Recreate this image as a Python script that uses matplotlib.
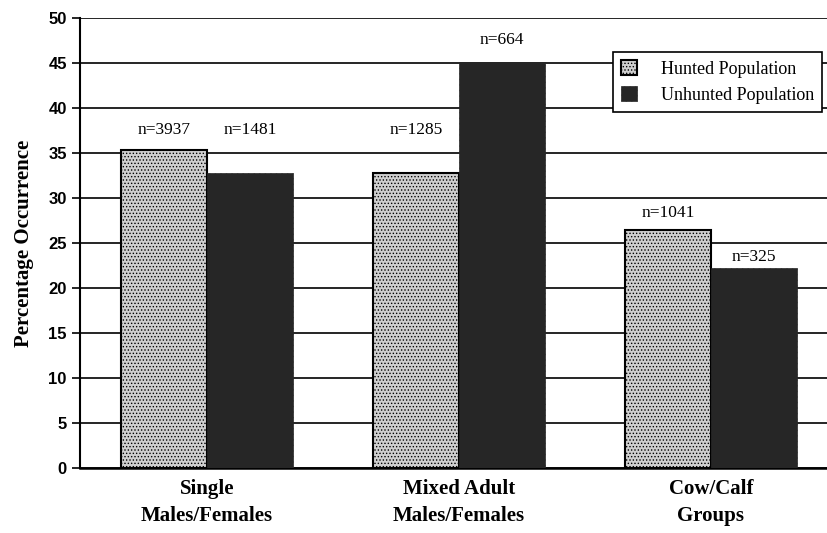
import numpy as np
import matplotlib.pyplot as plt

groups = ['Single\nMales/Females', 'Mixed Adult\nMales/Females', 'Cow/Calf\nGroups']
hunted = [35.3, 32.8, 26.4]
unhunted = [32.8, 45.1, 22.2]
n_hunted = ['n=3937', 'n=1285', 'n=1041']
n_unhunted = ['n=1481', 'n=664', 'n=325']
n_hunted_y = [37.6, 37.6, 28.3]
n_unhunted_y = [37.6, 47.6, 23.4]

serif = 'Liberation Serif'
plt.rcParams['hatch.linewidth'] = 0.6

fig = plt.figure(figsize=(8.27, 5.33), dpi=100)
ax = fig.add_axes([0.0967, 0.122, 0.903, 0.844])

x = np.arange(len(groups))
w = 0.34

plt.rcParams['hatch.color'] = '#9a9a9a'
b1 = ax.bar(x - w/2, hunted, w, color='#cfcfcf', edgecolor='black', linewidth=1.5,
            hatch='.....', zorder=3, label='Hunted Population')
b2 = ax.bar(x + w/2, unhunted, w, color='#262626', edgecolor='#262626', linewidth=0.5,
            hatch='//////', zorder=3, label='Unhunted Population')
for p in b2:
    if hasattr(p, 'set_hatch_color'):
        p.set_hatch_color('#6a6a6a')
for p in b1:
    if hasattr(p, 'set_hatch_color'):
        p.set_hatch_color('#8e8e8e')

for i in range(len(groups)):
    ax.text(x[i] - w/2, n_hunted_y[i], n_hunted[i], ha='center', va='center',
            fontsize=12.5, fontfamily=serif)
    ax.text(x[i] + w/2, n_unhunted_y[i], n_unhunted[i], ha='center', va='center',
            fontsize=12.5, fontfamily=serif)

ax.set_xlim(-0.504, 2.46)
ax.set_ylim(0, 50)
ax.set_yticks(np.arange(0, 51, 5))
ax.yaxis.grid(True, color='black', linewidth=1.2, zorder=0)
ax.set_axisbelow(True)
ax.set_xticks(x)
ax.set_xticklabels(groups, fontfamily=serif, fontweight='bold', fontsize=15, linespacing=1.45)
ax.tick_params(axis='x', length=0, pad=8)
ax.tick_params(axis='y', direction='out', length=6, width=1.2, labelsize=12)
for lab in ax.get_yticklabels():
    lab.set_fontfamily('Liberation Sans')
    lab.set_fontweight('bold')

for s in ['top', 'right']:
    ax.spines[s].set_visible(False)
ax.spines['left'].set_linewidth(1.5)
ax.spines['bottom'].set_linewidth(1.8)

ax.set_ylabel('Percentage Occurrence', fontfamily=serif, fontweight='bold', fontsize=15,
              labelpad=10)

leg = ax.legend(loc='upper left', bbox_to_anchor=(613 / 827, 1 - 52 / 533),
                bbox_transform=fig.transFigure, borderaxespad=0, frameon=True, fancybox=False,
                prop={'family': serif, 'size': 13}, handlelength=0.9, handleheight=0.9,
                borderpad=0.45, labelspacing=0.45, handletextpad=1.3, framealpha=1)
leg.get_frame().set_edgecolor('black')
leg.get_frame().set_linewidth(1.2)

fig.savefig('out.png', dpi=100)
